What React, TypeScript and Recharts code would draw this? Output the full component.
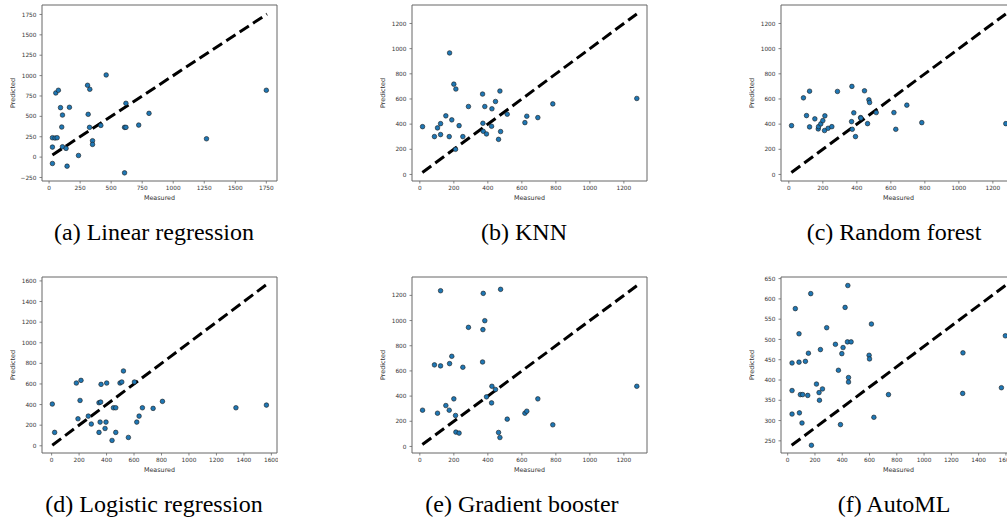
import { ScatterChart, Scatter, XAxis, YAxis, ReferenceLine, ReferenceArea } from "recharts";

// (a) Linear regression
const measuredA = [27, 27, 27, 48, 65, 54, 75, 92, 102, 108, 108, 137, 145, 164, 237, 310, 315, 328, 326, 350, 350, 417, 460, 608, 608, 619, 619, 722, 805, 1268, 1750];
const predictedA = [-78, 123, 238, 234, 238, 787, 820, 607, 369, 516, 127, 107, -111, 611, 20, 881, 525, 832, 365, 201, 156, 389, 1008, -193, 365, 365, 660, 393, 537, 225, 820];
const lineA = { x: [27, 1755], y: [27, 1755] };

// (b) KNN, (c) Random forest, (e) Gradient booster share the same test set
const measuredBCE = [16, 86, 104, 122, 122, 153, 173, 175, 188, 200, 212, 210, 231, 253, 286, 369, 371, 373, 382, 392, 422, 424, 445, 463, 471, 475, 514, 618, 629, 694, 782, 1276];
const predictedB = [380, 301, 370, 404, 317, 466, 301, 966, 434, 718, 679, 200, 388, 301, 540, 639, 407, 343, 540, 322, 383, 522, 580, 279, 663, 341, 479, 412, 463, 452, 561, 604];
const predictedC = [388, 609, 468, 662, 378, 442, 362, 380, 402, 428, 466, 349, 367, 380, 660, 420, 700, 359, 490, 301, 452, 448, 665, 404, 593, 572, 492, 492, 359, 551, 412, 404];
const predictedE = [288, 648, 264, 1237, 640, 325, 288, 658, 716, 378, 114, 246, 106, 629, 946, 671, 928, 1216, 999, 394, 346, 478, 452, 111, 71, 1248, 217, 264, 280, 378, 172, 478];
const lineBCE = { x: [15, 1276], y: [15, 1276] };

// (d) Logistic regression
const measuredD = [5, 22, 180, 192, 207, 214, 267, 289, 345, 345, 353, 357, 360, 389, 396, 401, 440, 450, 467, 467, 498, 511, 523, 559, 603, 620, 637, 661, 739, 807, 1342, 1564];
const predictedD = [405, 130, 609, 262, 440, 635, 288, 211, 418, 130, 230, 424, 596, 168, 230, 609, 52, 369, 369, 130, 609, 619, 726, 81, 619, 230, 288, 369, 363, 431, 369, 395];
const lineD = { x: [5, 1564], y: [5, 1564] };

// (f) AutoML
const measuredF = [32, 32, 32, 56, 83, 83, 86, 93, 110, 105, 130, 147, 152, 169, 174, 211, 230, 233, 240, 255, 286, 350, 372, 387, 397, 406, 421, 438, 441, 446, 446, 465, 597, 600, 614, 632, 739, 1285, 1283, 1567, 1596];
const predictedF = [442, 374, 316, 576, 514, 444, 319, 364, 364, 294, 446, 362, 466, 613, 239, 390, 369, 350, 475, 378, 529, 488, 424, 290, 465, 480, 579, 494, 633, 406, 395, 494, 461, 452, 538, 308, 364, 467, 367, 381, 509];
const lineF = { x: [29, 1596], y: [239, 633] };

const ticks1750 = [0, 250, 500, 750, 1000, 1250, 1500, 1750];
const ticksA_y = [-250, 0, 250, 500, 750, 1000, 1250, 1500, 1750];
const ticks1200 = [0, 200, 400, 600, 800, 1000, 1200];
const ticks1600 = [0, 200, 400, 600, 800, 1000, 1200, 1400, 1600];
const ticksF_y = [250, 300, 350, 400, 450, 500, 550, 600, 650];

const YW = 32;
const XH = 22;
const PW = 235;
const PH = 176;
const EDGE = "#666";
const TXT = "#333";

function Dot(p: any) {
  return <circle cx={p.cx} cy={p.cy} r={2.3} fill="#1f77b4" stroke="#1a1a1a" strokeWidth={0.6} />;
}

const fmt = (v: number) => String(v).replace("-", "\u2212");

function Plot(props: any) {
  const { left, top, xs, ys, line, xDomain, yDomain, xTicks, yTicks } = props;
  const data = xs.map((x: number, i: number) => ({ x, y: ys[i] }));
  return (
    <div style={{ position: "absolute", left: left - YW, top: top - 1 }}>
      <ScatterChart width={YW + PW + 1} height={PH + XH + 1} margin={{ top: 1, right: 1, bottom: 0, left: 0 }}>
        <XAxis
          type="number"
          dataKey="x"
          domain={xDomain}
          ticks={xTicks}
          allowDataOverflow
          interval={0}
          height={XH}
          axisLine={false}
          tickLine={{ stroke: EDGE, strokeWidth: 0.8 }}
          tickSize={2.5}
          tickMargin={2.2}
          tick={{ fontSize: 5.8, fill: TXT }}
          label={{ value: "Measured", position: "insideBottom", offset: 3.5, fontSize: 6.4, fill: TXT }}
        />
        <YAxis
          type="number"
          dataKey="y"
          domain={yDomain}
          ticks={yTicks}
          allowDataOverflow
          interval={0}
          width={YW}
          axisLine={false}
          tickLine={{ stroke: EDGE, strokeWidth: 0.8 }}
          tickSize={2.5}
          tickMargin={3}
          tickFormatter={fmt}
          tick={{ fontSize: 5.8, fill: TXT }}
          label={{ value: "Predicted", angle: -90, position: "insideLeft", offset: 3, fontSize: 6.4, fill: TXT, style: { textAnchor: "middle" } }}
        />
        <ReferenceArea x1={xDomain[0]} x2={xDomain[1]} y1={yDomain[0]} y2={yDomain[1]} fill="none" stroke={EDGE} strokeWidth={1} ifOverflow="visible" />
        <Scatter data={data} shape={Dot} isAnimationActive={false} />
        <ReferenceLine
          segment={[{ x: line.x[0], y: line.y[0] }, { x: line.x[1], y: line.y[1] }]}
          stroke="#000"
          strokeWidth={3}
          strokeDasharray="11 5"
          ifOverflow="visible"
        />
      </ScatterChart>
    </div>
  );
}

function Caption({ text, cx, top }: { text: string; cx: number; top: number }) {
  return (
    <div
      style={{
        position: "absolute",
        left: cx - 150,
        top,
        width: 300,
        textAlign: "center",
        fontFamily: '"Liberation Serif", "Times New Roman", serif',
        fontSize: 24,
        lineHeight: "24px",
        color: "#000",
      }}
    >
      {text}
    </div>
  );
}

export default function App() {
  return (
    <div
      style={{
        position: "absolute",
        left: 0,
        top: 0,
        width: 1007,
        height: 518,
        overflow: "hidden",
        background: "#fff",
        fontFamily: '"DejaVu Sans", sans-serif',
      }}
    >
      <Plot left={42} top={5} xs={measuredA} ys={predictedA} line={lineA} xDomain={[-57, 1836]} yDomain={[-293, 1866]} xTicks={ticks1750} yTicks={ticksA_y} />
      <Plot left={412} top={5} xs={measuredBCE} ys={predictedB} line={lineBCE} xDomain={[-46, 1336]} yDomain={[-52, 1347]} xTicks={ticks1200} yTicks={ticks1200} />
      <Plot left={781} top={5} xs={measuredBCE} ys={predictedC} line={lineBCE} xDomain={[-46, 1336]} yDomain={[-52, 1347]} xTicks={ticks1200} yTicks={ticks1200} />
      <Plot left={42} top={277} xs={measuredD} ys={predictedD} line={lineD} xDomain={[-70, 1641]} yDomain={[-70, 1638]} xTicks={ticks1600} yTicks={ticks1600} />
      <Plot left={412} top={277} xs={measuredBCE} ys={predictedE} line={lineBCE} xDomain={[-46, 1336]} yDomain={[-52, 1346]} xTicks={ticks1200} yTicks={ticks1200} />
      <Plot left={781} top={277} xs={measuredF} ys={predictedF} line={lineF} xDomain={[-49, 1674]} yDomain={[220, 654]} xTicks={ticks1600} yTicks={ticksF_y} />

      <Caption text="(a) Linear regression" cx={154} top={220} />
      <Caption text="(b) KNN" cx={524} top={220} />
      <Caption text="(c) Random forest" cx={894} top={220} />
      <Caption text="(d) Logistic regression" cx={154} top={492} />
      <Caption text="(e) Gradient booster" cx={522} top={492} />
      <Caption text="(f) AutoML" cx={894} top={492} />
    </div>
  );
}
